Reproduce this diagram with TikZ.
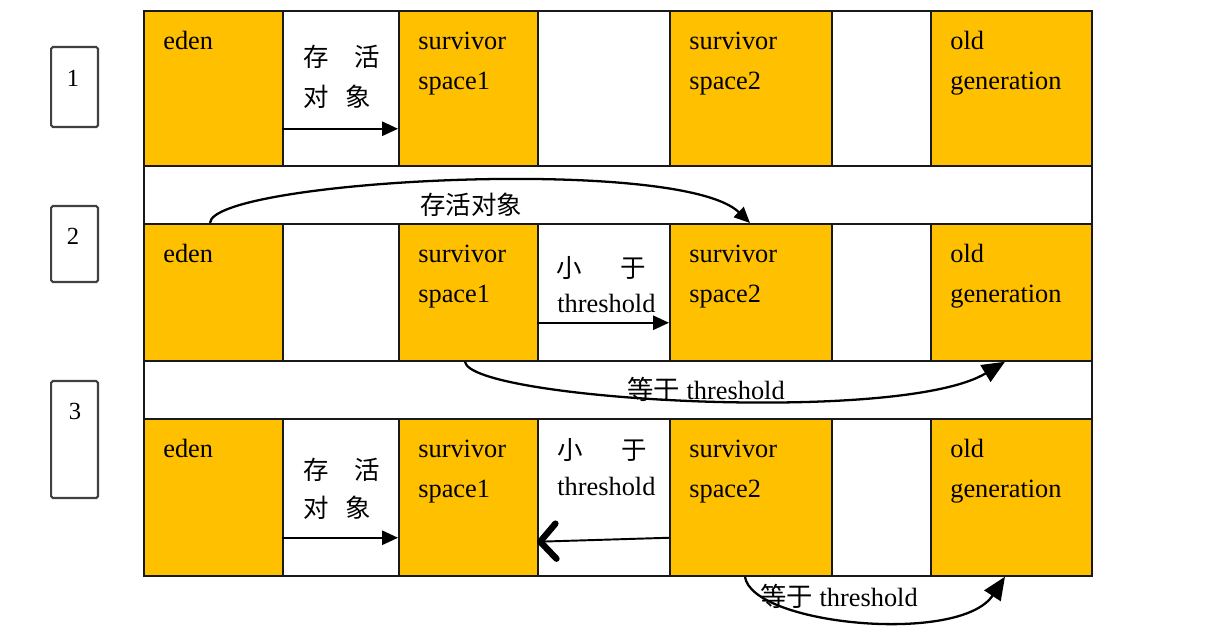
\documentclass[tikz,border=0pt]{standalone}
\usepackage{fontspec}
\setmainfont{Liberation Serif}
\newfontfamily\cjk{Noto Sans CJK SC}
\usetikzlibrary{arrows.meta}
\definecolor{genyellow}{RGB}{255,192,0}
\tikzset{
  basecell/.style = {rectangle, draw=black!90, line width=1pt, anchor=north west, inner sep=0pt},
  gen_cell/.style = {basecell, fill=genyellow},
  gap_cell/.style = {basecell, fill=white},
  band_cell/.style = {basecell, fill=white, minimum width=18.96cm, minimum height=1.16cm},
  num_box/.style = {rectangle, draw=black!75, line width=1.2pt, rounded corners=1pt, anchor=north west, minimum width=0.94cm},
  num_text/.style = {inner sep=0pt, font=\fontsize{14}{14}\selectfont},
  lbl_text/.style = {anchor=base west, inner sep=0pt, font=\fontsize{15}{15}\selectfont},
  cn_text/.style = {lbl_text, font=\fontsize{14.5}{15}\selectfont\cjk},
  arr/.style = {line width=1.3pt, -{Triangle[length=9pt,width=8pt]}},
  big_arr/.style = {line width=1.3pt, -{Triangle[length=13pt,width=11pt]}},
}

\begin{document}
\begin{tikzpicture}[x=0.02cm, y=-0.02cm]
    \useasboundingbox (0,0) rectangle (1205,634);

    \node[num_box, minimum height=1.6cm] (box1) at (50,46) {};
    \node[num_box, minimum height=1.52cm] (box2) at (50,205) {};
    \node[num_box, minimum height=2.34cm] (box3) at (50,380) {};
    \node[num_text] (num1) at (73,78) {1};
    \node[num_text] (num2) at (73,236) {2};
    \node[num_text] (num3) at (75,411) {3};

    \node[band_cell] (band1) at (143,165) {};
    \node[band_cell] (band2) at (143,360) {};

    \foreach \rw/\ty/\h in {1/10/155, 2/223/137, 3/418/157}{
        \foreach \cn/\x/\w/\s in {eden/143/139/gen_cell, ga/282/116/gap_cell, sone/398/139/gen_cell, gb/537/132/gap_cell, stwo/669/162/gen_cell, gc/831/99/gap_cell, old/930/161/gen_cell}
            \node[\s, minimum width=\w*0.02cm, minimum height=\h*0.02cm] (\cn\rw) at (\x,\ty) {};
        \node[lbl_text] (edentxt\rw) at (163,\ty+40) {eden};
        \node[lbl_text] (sonetop\rw) at (418,\ty+40) {survivor};
        \node[lbl_text] (sonebot\rw) at (418,\ty+80) {space1};
        \node[lbl_text] (stwotop\rw) at (689,\ty+40) {survivor};
        \node[lbl_text] (stwobot\rw) at (689,\ty+80) {space2};
        \node[lbl_text] (oldtop\rw) at (950,\ty+40) {old};
        \node[lbl_text] (oldbot\rw) at (950,\ty+80) {generation};
    }

    \node[cn_text] (alive1a) at (303,67) {存\quad 活};
    \node[cn_text] (alive1b) at (303,107) {对\hspace{0.65em}象};
    \node[cn_text] (alive3a) at (303,480) {存\quad 活};
    \node[cn_text] (alive3b) at (303,518) {对\hspace{0.65em}象};
    \node[cn_text] (less2a) at (556,278) {小\hspace{1.5em}于};
    \node[lbl_text] (less2b) at (557,313) {threshold};
    \node[cn_text] (less3a) at (557,460) {小\hspace{1.5em}于};
    \node[lbl_text] (less3b) at (557,496) {threshold};
    \node[cn_text] (alive2) at (420,215) {存活对象};
    \node[lbl_text] (equal2) at (627,400) {{\cjk 等于} threshold};
    \node[lbl_text] (equal3) at (760,607) {{\cjk 等于} threshold};

    \draw[arr] ([yshift=0.76cm]ga1.south west) -- ([yshift=0.76cm]sone1.south west);
    \draw[arr] ([yshift=0.78cm]gb2.south west) -- ([yshift=0.78cm]stwo2.south west);
    \draw[arr] ([yshift=0.78cm]ga3.south west) -- ([yshift=0.78cm]sone3.south west);
    \draw[line width=1.1pt, -{Straight Barb[length=9pt,width=20pt,line width=3.6pt,round]}] ([yshift=0.78cm]stwo3.south west) -- ([yshift=0.7cm]gb3.south west);

    \draw[arr] ([xshift=1.34cm]eden2.north west) .. controls (212,180) and (680,155) .. ([xshift=1.62cm]stwo2.north west);
    \draw[big_arr] ([xshift=1.34cm]sone2.south west) .. controls (470,400) and (900,425) .. ([xshift=1.5cm]old2.south west);
    \draw[big_arr] ([xshift=1.52cm]stwo3.south west) .. controls (752,625) and (960,645) .. ([xshift=1.5cm]old3.south west);
\end{tikzpicture}
\end{document}
